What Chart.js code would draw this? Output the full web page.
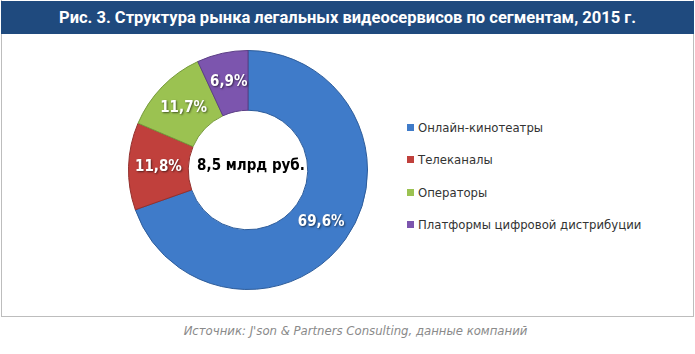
<!DOCTYPE html>
<html>
<head>
<meta charset="utf-8">
<script src="https://cdn.jsdelivr.net/npm/chart.js@4"></script>
<style>
  html, body { margin: 0; padding: 0; background: #fff; }
  #wrap { position: relative; width: 695px; height: 354px; overflow: hidden; font-family: "DejaVu Sans", Verdana, sans-serif; }
  #frame { position: absolute; left: 1px; top: 0; width: 691px; height: 316px; border: 1px solid #bdbdbd; border-top: none; }
  #title { position: absolute; left: 1px; top: 1px; width: 693px; height: 33px; background: #1f4a7e;
           color: #fff; font: bold 16.5px "Liberation Sans Narrow", "Roboto", sans-serif; text-align: center; line-height: 33px; }
  #chartBox { position: absolute; left: 128px; top: 50px; width: 240px; height: 240px; }
  #legend { position: absolute; left: 407px; top: 120px; }
  .item { height: 32.4px; font-size: 13px; color: #333; font-family: "DejaVu Sans Condensed", "DejaVu Sans", sans-serif; white-space: nowrap; }
  .item span.sw { display: inline-block; width: 7px; height: 7px; margin-right: 4px; vertical-align: 1px; }
  #source { position: absolute; left: 8px; width: 695px; top: 323px; text-align: center; font: italic 13px "DejaVu Sans Condensed", "DejaVu Sans", sans-serif; color: #8a8a8a; }
</style>
</head>
<body>
<div id="wrap">
  <div id="frame"></div>
  <div id="title">Рис. 3. Структура рынка легальных видеосервисов по сегментам, 2015 г.</div>
  <div id="chartBox"><canvas id="myChart"></canvas></div>
  <div id="legend"></div>
  <div id="source">Источник: J'son &amp; Partners Consulting, данные компаний</div>
</div>
<script>
// Data
const segments = ['Онлайн-кинотеатры', 'Телеканалы', 'Операторы', 'Платформы цифровой дистрибуции'];
const shares = [69.6, 11.8, 11.7, 6.9];
const totalLabel = '8,5 млрд руб.';

const baseColors = ['#3f7bc9', '#c0403c', '#9bc251', '#7c55ae'];
const darkColors = ['#2d5c9a', '#93302d', '#769a3b', '#5c3f86'];
const lightColors = ['#5d93dc', '#d25753', '#b0d46c', '#9370c2'];

// legend as html
const legendEl = document.getElementById('legend');
segments.forEach(function(name, i) {
    const row = document.createElement('div');
    row.className = 'item';
    row.innerHTML = '<span class="sw" style="background:' + baseColors[i] + '"></span>' + name;
    legendEl.appendChild(row);
});

function fmt(v) {
    return v.toFixed(1).replace('.', ',') + '%';
}

const labelsPlugin = {
    id: 'sliceLabels',
    afterDatasetsDraw(chart) {
        const ctx = chart.ctx;
        const meta = chart.getDatasetMeta(0);
        ctx.save();
        ctx.textAlign = 'center';
        ctx.textBaseline = 'middle';
        ctx.font = 'bold 15px "DejaVu Sans Condensed", "DejaVu Sans", sans-serif';
        meta.data.forEach(function(arc, i) {
            const p = arc.tooltipPosition();
            ctx.shadowColor = 'rgba(0,0,0,0.55)';
            ctx.shadowBlur = 2;
            ctx.shadowOffsetX = 1;
            ctx.shadowOffsetY = 1;
            ctx.fillStyle = '#fff';
            ctx.fillText(fmt(shares[i]), p.x, p.y);
        });
        ctx.shadowColor = 'transparent';
        const c = meta.data[0];
        ctx.fillStyle = '#000';
        ctx.font = 'bold 15px "DejaVu Sans Condensed", "DejaVu Sans", sans-serif';
        ctx.fillText(totalLabel, c.x + 3, c.y - 4);
        ctx.restore();
    }
};

const ctx = document.getElementById('myChart');
new Chart(ctx, {
    type: 'doughnut',
    data: {
        labels: segments,
        datasets: [{
            data: shares,
            backgroundColor: function(context) {
                const chart = context.chart;
                const arc = chart.getDatasetMeta(0).data[context.dataIndex];
                if (!arc || !arc.outerRadius) return baseColors[context.dataIndex];
                const g = chart.ctx.createRadialGradient(arc.x, arc.y, arc.innerRadius, arc.x, arc.y, arc.outerRadius);
                const i = context.dataIndex;
                g.addColorStop(0, lightColors[i]);
                g.addColorStop(0.15, baseColors[i]);
                g.addColorStop(0.85, baseColors[i]);
                g.addColorStop(1, darkColors[i]);
                return g;
            },
            borderColor: darkColors,
            borderWidth: 1
        }]
    },
    options: {
        responsive: true,
        maintainAspectRatio: false,
        animation: false,
        cutout: '50%',
        layout: { padding: 0 },
        plugins: {
            legend: { display: false },
            tooltip: { enabled: false }
        }
    },
    plugins: [labelsPlugin]
});
</script>
</body>
</html>
